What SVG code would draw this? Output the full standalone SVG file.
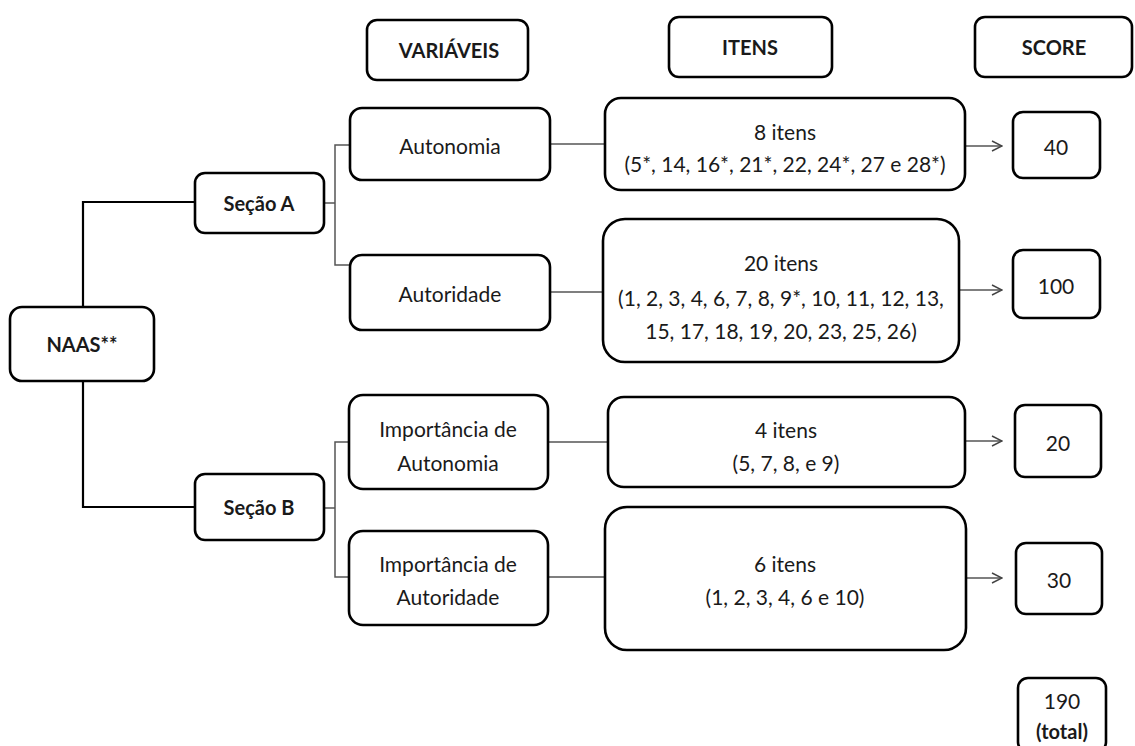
<svg xmlns="http://www.w3.org/2000/svg" width="1135" height="746" viewBox="0 0 1135 746">
<defs>
<marker id="arr" viewBox="0 0 12 12" refX="11" refY="6" markerWidth="12" markerHeight="12" markerUnits="userSpaceOnUse" orient="auto">
<path d="M1,1 L11,6 L1,11" fill="none" stroke="#444" stroke-width="1.4"/>
</marker>
</defs>
<style>
.box{fill:#fff;stroke:#000;stroke-width:2.6}
.t{font-family:Lato,"Open Sans","Liberation Sans",sans-serif;font-size:21px;fill:#1a1a1a;text-anchor:middle;dominant-baseline:central}
.b{font-weight:bold;font-size:20px}
.main{fill:none;stroke:#000;stroke-width:2.2}
.thin{fill:none;stroke:#555;stroke-width:1.5}
</style>
<rect width="1135" height="746" fill="#fff"/>
<g id="connectors">
<path class="main" d="M195,202 H83 V307 M83,381 V507 H195"/>
<path class="thin" d="M324,203 H335 M350,145 H335 V265 H350"/>
<path class="thin" d="M324,508 H335 M350,442 H335 V577 H350"/>
<path class="thin" d="M550,144 H605 M550,292 H603 M548,442 H608 M548,577 H605"/>
<path class="thin" marker-end="url(#arr)" d="M965,146 H1002"/>
<path class="thin" marker-end="url(#arr)" d="M959,290 H1002"/>
<path class="thin" marker-end="url(#arr)" d="M965,441 H1002"/>
<path class="thin" marker-end="url(#arr)" d="M966,578 H1002"/>
</g>
<g id="h-variaveis"><rect class="box" x="367" y="20" width="161" height="60" rx="10"/><text class="t b" x="449" y="50">VARIÁVEIS</text></g>
<g id="h-itens"><rect class="box" x="669" y="17" width="163" height="60" rx="10"/><text class="t b" x="750" y="47">ITENS</text></g>
<g id="h-score"><rect class="box" x="975" y="17" width="157" height="60" rx="10"/><text class="t b" x="1054" y="47">SCORE</text></g>
<g id="naas"><rect class="box" x="10" y="307" width="144" height="74" rx="12"/><text class="t b" x="82" y="344">NAAS**</text></g>
<g id="secao-a"><rect class="box" x="195" y="173" width="129" height="60" rx="10"/><text class="t b" x="259" y="203">Seção A</text></g>
<g id="secao-b"><rect class="box" x="195" y="474" width="129" height="66" rx="10"/><text class="t b" x="259" y="507">Seção B</text></g>
<g id="autonomia"><rect class="box" x="350" y="108" width="200" height="72" rx="12"/><text class="t" x="450" y="145">Autonomia</text></g>
<g id="autoridade"><rect class="box" x="350" y="255" width="200" height="75" rx="12"/><text class="t" x="450" y="293">Autoridade</text></g>
<g id="imp-autonomia"><rect class="box" x="349" y="395" width="199" height="94" rx="14"/><text class="t" x="448" y="428">Importância de</text><text class="t" x="448" y="462">Autonomia</text></g>
<g id="imp-autoridade"><rect class="box" x="349" y="531" width="199" height="94" rx="14"/><text class="t" x="448" y="563">Importância de</text><text class="t" x="448" y="596">Autoridade</text></g>
<g id="itens-a1"><rect class="box" x="605" y="98" width="360" height="92" rx="16"/><text class="t" x="785" y="131">8 itens</text><text class="t" x="785" y="163">(5*, 14, 16*, 21*, 22, 24*, 27 e 28*)</text></g>
<g id="itens-a2"><rect class="box" x="603" y="219" width="356" height="143" rx="22"/><text class="t" x="781" y="262">20 itens</text><text class="t" x="781" y="297">(1, 2, 3, 4, 6, 7, 8, 9*, 10, 11, 12, 13,</text><text class="t" x="781" y="330">15, 17, 18, 19, 20, 23, 25, 26)</text></g>
<g id="itens-b1"><rect class="box" x="608" y="397" width="357" height="90" rx="16"/><text class="t" x="786" y="429">4 itens</text><text class="t" x="786" y="462">(5, 7, 8, e 9)</text></g>
<g id="itens-b2"><rect class="box" x="605" y="507" width="361" height="143" rx="22"/><text class="t" x="785" y="563">6 itens</text><text class="t" x="785" y="596">(1, 2, 3, 4, 6 e 10)</text></g>
<g id="s40"><rect class="box" x="1013" y="112" width="87" height="66" rx="10"/><text class="t" x="1056" y="146">40</text></g>
<g id="s100"><rect class="box" x="1013" y="250" width="87" height="68" rx="10"/><text class="t" x="1056" y="285">100</text></g>
<g id="s20"><rect class="box" x="1015" y="405" width="86" height="72" rx="10"/><text class="t" x="1058" y="442">20</text></g>
<g id="s30"><rect class="box" x="1016" y="543" width="86" height="71" rx="10"/><text class="t" x="1059" y="579">30</text></g>
<g id="s190"><rect class="box" x="1018" y="678" width="88" height="74" rx="10"/><text class="t" x="1062" y="700">190</text><text class="t b" x="1062" y="731">(total)</text></g>
</svg>
